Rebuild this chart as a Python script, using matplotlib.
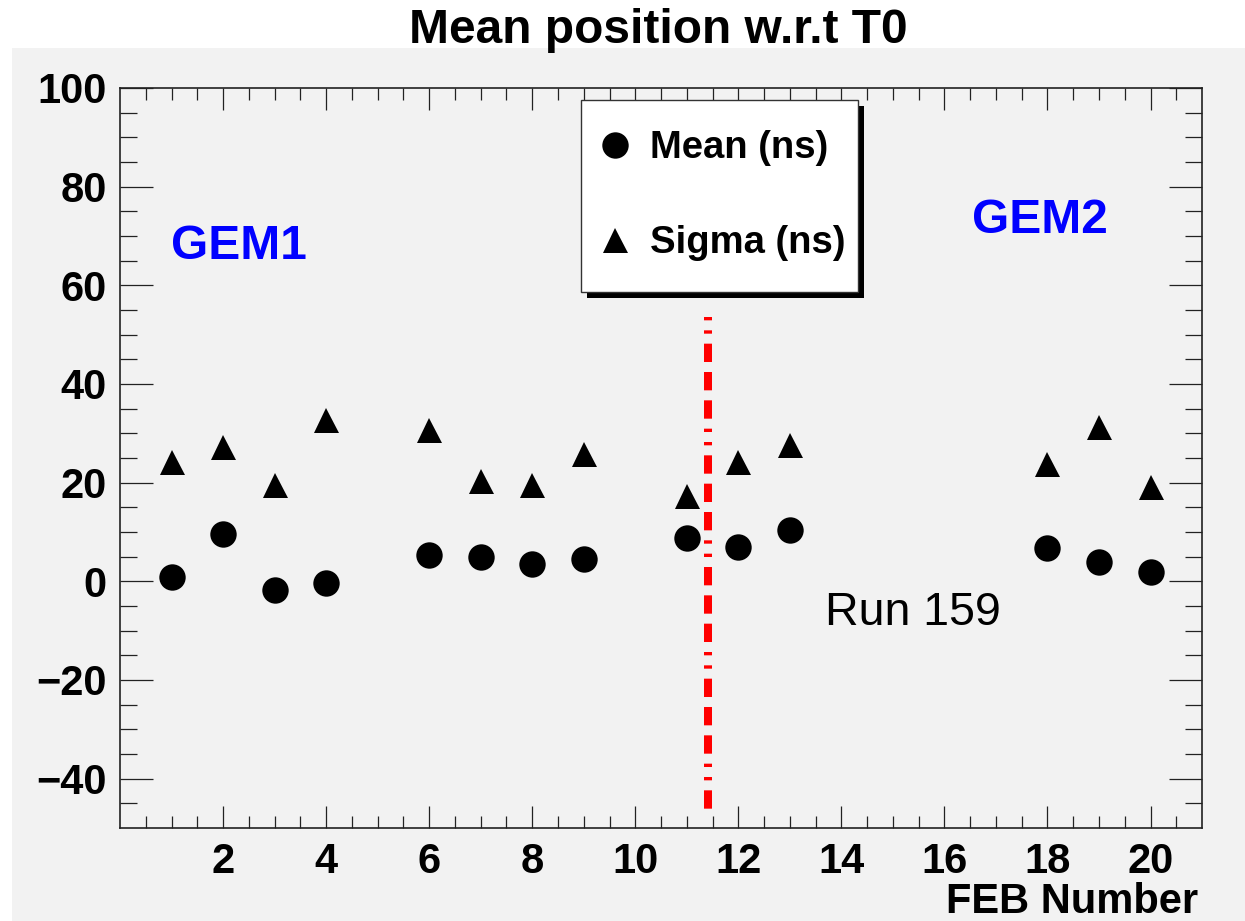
import matplotlib
matplotlib.use('Agg')
import matplotlib.pyplot as plt
from matplotlib.patches import Rectangle

plt.rcParams['font.family'] = ['Liberation Sans', 'DejaVu Sans']
plt.rcParams['lines.scale_dashes'] = False

# FEB numbers and measured values (ns)
feb = [1, 2, 3, 4, 6, 7, 8, 9, 11, 12, 13, 18, 19, 20]
mean_ns = [0.8, 9.6, -1.7, -0.3, 5.3, 5.0, 3.6, 4.6, 8.8, 7.0, 10.3, 6.7, 3.9, 1.8]
sigma_ns = [24.2, 27.3, 19.6, 32.6, 30.6, 20.3, 19.6, 25.9, 17.2, 24.2, 27.7, 23.8, 31.2, 19.2]

# GEM1 / GEM2 divider
divider_x = 11.42
divider_y = [53.5, -46.4]

x_ticks = list(range(2, 21, 2))
y_ticks = list(range(-40, 101, 20))

pad_gray = '#f2f2f2'

fig = plt.figure(figsize=(12.45, 9.21), dpi=100)
fig.patch.set_facecolor('white')
# grey pad behind the frame
fig.add_artist(Rectangle((12 / 1245, 0), 1 - 12 / 1245, (921 - 48) / 921,
                         transform=fig.transFigure, facecolor=pad_gray,
                         edgecolor='none', zorder=0))

ax = fig.add_axes([0.0964, 0.101, 0.8691, 0.8035])
ax.set_facecolor(pad_gray)

ax.plot(feb, mean_ns, 'o', color='black', ms=19, mew=0, label='Mean (ns)', zorder=3)
ax.plot(feb, sigma_ns, '^', color='black', ms=18, mew=0, label='Sigma (ns)', zorder=3)

ax.plot([divider_x, divider_x], divider_y, color='red', lw=5.76,
        ls=(0, (2.4, 7.2, 2.4, 7.2, 13.2, 7.2, 13.2, 7.2, 13.2, 7.2)), zorder=2)

ax.set_xlim(0, 21)
ax.set_ylim(-50, 100)
ax.set_xticks(x_ticks)
ax.set_yticks(y_ticks)
ax.set_xticks([v * 0.5 for v in range(1, 42)], minor=True)
ax.set_yticks(list(range(-45, 100, 5)), minor=True)

ax.tick_params(which='both', direction='in', top=True, right=True,
               width=0.9, color='#222222')
ax.tick_params(axis='x', which='major', length=16, pad=10)
ax.tick_params(axis='x', which='minor', length=8.6)
ax.tick_params(axis='y', which='major', length=24, pad=9.4)
ax.tick_params(axis='y', which='minor', length=12)
for lab in ax.get_xticklabels() + ax.get_yticklabels():
    lab.set_fontsize(30)
    lab.set_fontweight('bold')
for sp in ax.spines.values():
    sp.set_linewidth(1.2)
    sp.set_color('#222222')

ax.set_xlabel('FEB Number', fontsize=30, fontweight='bold')
ax.xaxis.set_label_coords(0.9963, -0.115)
ax.xaxis.label.set_ha('right')
ax.xaxis.label.set_va('baseline')

ax.text(2.3, 65.4, 'GEM1', color='blue', fontsize=34.5, fontweight='bold',
        ha='center', va='baseline')
ax.text(17.85, 70.7, 'GEM2', color='blue', fontsize=34.5, fontweight='bold',
        ha='center', va='baseline')
ax.text(13.68, -8.8, 'Run 159', fontsize=33.5, ha='left', va='baseline')

fig.text(0.5285, 0.9533, 'Mean position w.r.t T0', fontsize=34.5,
         fontweight='bold', ha='center', va='baseline')

# legend entries; the ROOT style box (with drop shadow) is drawn separately
leg = ax.legend(loc='upper left', bbox_to_anchor=(0.426, 0.977),
                prop={'size': 27.5, 'weight': 'bold'}, handlelength=0.47,
                handletextpad=0.68, borderpad=0.66, labelspacing=1.54,
                borderaxespad=0, frameon=False)
leg.set_zorder(6)

box_x0, box_x1 = 0.4261, 0.6821
box_y0, box_y1 = 0.7243, 0.9838
ax.add_patch(Rectangle((box_x0 + 0.0056, box_y0 - 0.0081), box_x1 - box_x0, box_y1 - box_y0,
                       transform=ax.transAxes, facecolor='black', edgecolor='none',
                       zorder=5.4))
ax.add_patch(Rectangle((box_x0, box_y0), box_x1 - box_x0, box_y1 - box_y0,
                       transform=ax.transAxes, facecolor='white', edgecolor='#333333',
                       lw=1.0, zorder=5.5))

fig.savefig('out.png', dpi=100)
